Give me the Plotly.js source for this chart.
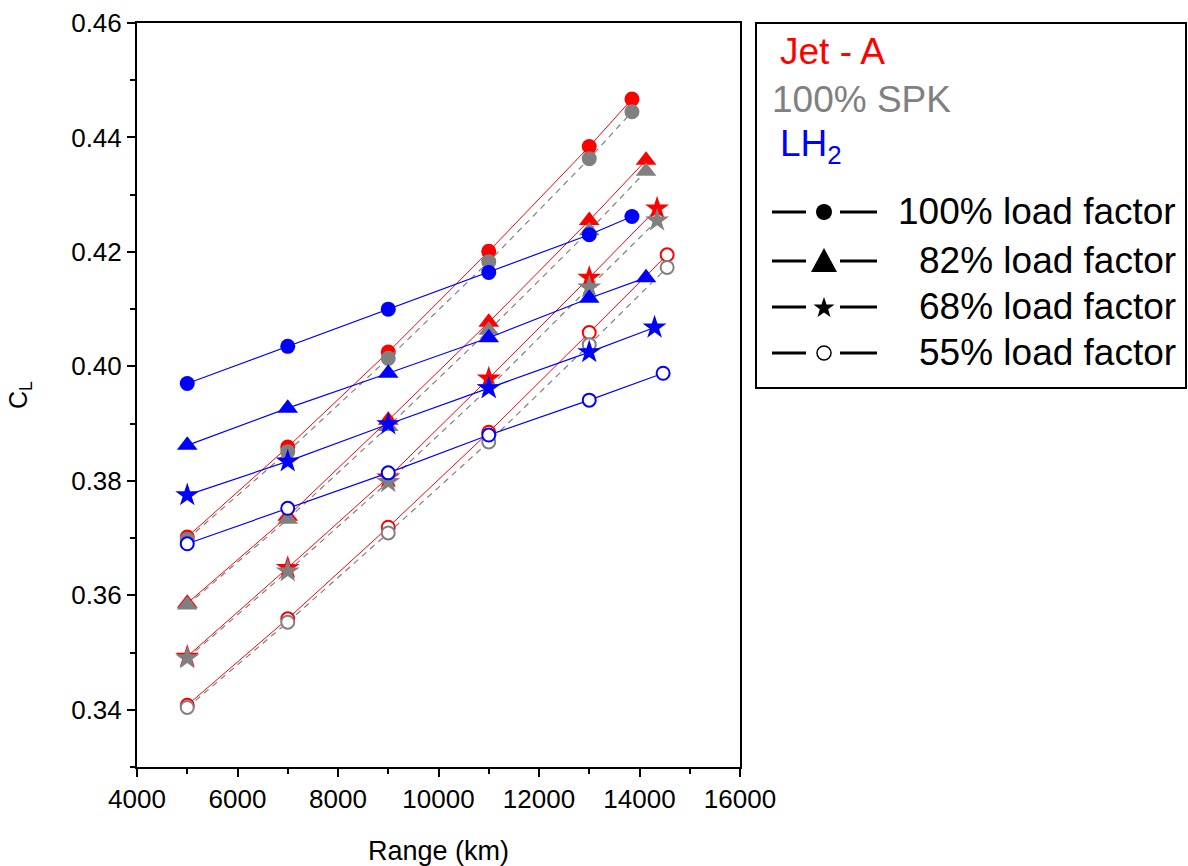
<!DOCTYPE html>
<html>
<head>
<meta charset="utf-8">
<script src="https://cdn.plot.ly/plotly-3.0.1.min.js"></script>
<style>html,body{margin:0;padding:0;background:#fff;}#chart{width:1188px;height:866px;}</style>
</head>
<body>
<div id="chart"></div>
<script>
// ---- Data ----
const fuels = ['Jet - A', '100% SPK', 'LH2'];
const loadFactors = ['100% load factor', '82% load factor', '68% load factor', '55% load factor'];

const x100 = [5000, 7000, 9000, 11000, 13000, 13850];
const x82 = [5000, 7000, 9000, 11000, 13000, 14130];
const x68 = [5000, 7000, 9000, 11000, 13000, 14350];
const x68LH2 = [5000, 7000, 9000, 11000, 13000, 14300];
const x55 = [5000, 7000, 9000, 11000, 13000, 14550];
const x55LH2 = [5000, 7000, 9000, 11000, 13000, 14470];

const jetA100 = [0.3702, 0.3859, 0.4025, 0.4201, 0.4384, 0.4467];
const jetA82 = [0.3586, 0.3738, 0.3906, 0.4077, 0.4255, 0.4360];
const jetA68 = [0.3493, 0.3648, 0.3806, 0.3979, 0.4155, 0.4276];
const jetA55 = [0.3408, 0.3559, 0.3719, 0.3885, 0.4059, 0.4195];

const spk100 = [0.3698, 0.3851, 0.4014, 0.4183, 0.4363, 0.4445];
const spk82 = [0.3583, 0.3733, 0.3895, 0.4063, 0.4237, 0.4341];
const spk68 = [0.3490, 0.3642, 0.3798, 0.3962, 0.4138, 0.4255];
const spk55 = [0.3404, 0.3553, 0.3709, 0.3868, 0.4038, 0.4173];

const lh2_100 = [0.3970, 0.4035, 0.4100, 0.4164, 0.4230, 0.4262];
const lh2_82 = [0.3862, 0.3927, 0.3988, 0.4050, 0.4119, 0.4155];
const lh2_68 = [0.3775, 0.3834, 0.3899, 0.3962, 0.4025, 0.4068];
const lh2_55 = [0.3690, 0.3752, 0.3814, 0.3880, 0.3941, 0.3988];

const xTickVals = [4000, 6000, 8000, 10000, 12000, 14000, 16000];
const yTickVals = [0.34, 0.36, 0.38, 0.40, 0.42, 0.44, 0.46];

// ---- Styles ----
const RED = '#ff0000', GREY = '#808080', BLUE = '#0000ff';
const FONT = 'Liberation Sans, Arial, sans-serif';

function markerFor(lfIndex, color) {
  if (lfIndex === 0) return {symbol: 'circle', size: 15, color: color, line: {width: 0}};
  if (lfIndex === 1) return {symbol: 'triangle-up', size: 18, color: color, line: {width: 0}};
  if (lfIndex === 2) return {symbol: 'star', size: 18, color: color, line: {width: 0}};
  return {symbol: 'circle', size: 13, color: '#ffffff', line: {width: 2, color: color}};
}

const groups = [
  {name: fuels[0], color: RED, line: {color: RED, width: 1}, xs: [x100, x82, x68, x55], ys: [jetA100, jetA82, jetA68, jetA55]},
  {name: fuels[1], color: GREY, line: {color: GREY, width: 1.2, dash: '6px,5px'}, xs: [x100, x82, x68, x55], ys: [spk100, spk82, spk68, spk55]},
  {name: fuels[2], color: BLUE, line: {color: BLUE, width: 1.2}, xs: [x100, x82, x68LH2, x55LH2], ys: [lh2_100, lh2_82, lh2_68, lh2_55]}
];

const traces = [];
groups.forEach(g => {
  for (let i = 0; i < 4; i++) {
    traces.push({
      type: 'scatter', mode: 'lines+markers',
      name: g.name + ' ' + loadFactors[i],
      x: g.xs[i], y: g.ys[i],
      line: g.line,
      marker: markerFor(i, g.color),
      showlegend: false, hoverinfo: 'x+y+name'
    });
  }
});

// ---- Pixel helpers for the custom legend box ----
const PL = 137, PR = 740, PT = 23, PB = 767;
const fx = x => (x - PL) / (PR - PL);
const fy = y => (PB - y) / (PB - PT);

const shapes = [];
const annotations = [];

// legend box
shapes.push({type: 'rect', xref: 'paper', yref: 'paper', x0: fx(756), x1: fx(1186), y0: fy(23), y1: fy(388),
  line: {color: '#000', width: 2}, fillcolor: 'rgba(0,0,0,0)'});

annotations.push({xref: 'paper', yref: 'paper', x: fx(778), y: fy(52), xanchor: 'left', yanchor: 'middle', showarrow: false,
  text: fuels[0], font: {family: FONT, size: 37, color: RED}});
annotations.push({xref: 'paper', yref: 'paper', x: fx(770), y: fy(99), xanchor: 'left', yanchor: 'middle', showarrow: false,
  text: fuels[1], font: {family: FONT, size: 37, color: GREY}});
annotations.push({xref: 'paper', yref: 'paper', x: fx(778), y: fy(146), xanchor: 'left', yanchor: 'middle', showarrow: false,
  text: 'LH<sub>2</sub>', font: {family: FONT, size: 37, color: BLUE}});

const rowY = [212, 261, 307, 353];
rowY.forEach((ry, i) => {
  shapes.push({type: 'line', xref: 'paper', yref: 'paper', x0: fx(772), x1: fx(806), y0: fy(ry), y1: fy(ry), line: {color: '#000', width: 3}});
  shapes.push({type: 'line', xref: 'paper', yref: 'paper', x0: fx(840), x1: fx(877), y0: fy(ry), y1: fy(ry), line: {color: '#000', width: 3}});
  const cx = 824;
  if (i === 0) {
    shapes.push({type: 'circle', xref: 'paper', yref: 'paper', x0: fx(cx - 8), x1: fx(cx + 8), y0: fy(ry - 8), y1: fy(ry + 8),
      fillcolor: '#000', line: {width: 0}});
  } else if (i === 1) {
    const p = `M ${fx(cx - 13)} ${fy(ry + 11)} L ${fx(cx + 13)} ${fy(ry + 11)} L ${fx(cx)} ${fy(ry - 13)} Z`;
    shapes.push({type: 'path', xref: 'paper', yref: 'paper', path: p, fillcolor: '#000', line: {width: 0}});
  } else if (i === 2) {
    const Ro = 11, Ri = 4.4;
    let p = '';
    for (let k = 0; k < 10; k++) {
      const r = k % 2 === 0 ? Ro : Ri;
      const a = -Math.PI / 2 + k * Math.PI / 5;
      const px = cx + r * Math.cos(a), py = ry + 1 + r * Math.sin(a);
      p += (k === 0 ? 'M ' : ' L ') + fx(px) + ' ' + fy(py);
    }
    shapes.push({type: 'path', xref: 'paper', yref: 'paper', path: p + ' Z', fillcolor: '#000', line: {width: 0}});
  } else {
    shapes.push({type: 'circle', xref: 'paper', yref: 'paper', x0: fx(cx - 7), x1: fx(cx + 7), y0: fy(ry - 7), y1: fy(ry + 7),
      fillcolor: '#fff', line: {width: 1.5, color: '#000'}});
  }
  annotations.push({xref: 'paper', yref: 'paper', x: fx(1178), y: fy(ry - 1), xanchor: 'right', yanchor: 'middle', showarrow: false,
    text: loadFactors[i], font: {family: FONT, size: 37, color: '#000'}});
});

// y-axis title C_L
annotations.push({xref: 'paper', yref: 'paper', x: fx(20), y: fy(395), xanchor: 'center', yanchor: 'middle', showarrow: false,
  textangle: -90, text: 'C<sub>L</sub>', font: {family: FONT, size: 25, color: '#000'}});

const layout = {
  width: 1188, height: 866,
  margin: {l: PL, r: 1188 - PR, t: PT, b: 866 - PB, pad: 0},
  paper_bgcolor: '#ffffff', plot_bgcolor: '#ffffff',
  font: {family: FONT, color: '#000'},
  showlegend: false,
  xaxis: {
    range: [4000, 16000], tickvals: xTickVals, ticktext: xTickVals.map(String),
    ticks: 'outside', ticklen: 8, tickwidth: 2, tickcolor: '#000',
    minor: {dtick: 1000, tick0: 4000, ticks: 'outside', ticklen: 5, tickwidth: 2, tickcolor: '#000', showgrid: false},
    showline: true, linewidth: 2, linecolor: '#000', mirror: true,
    showgrid: false, zeroline: false, automargin: false,
    tickfont: {family: FONT, size: 26, color: '#000'},
    title: {text: 'Range (km)', font: {family: FONT, size: 27, color: '#000'}, standoff: 28}
  },
  yaxis: {
    range: [0.33, 0.46], tickvals: yTickVals, ticktext: yTickVals.map(v => v.toFixed(2)),
    ticks: 'outside', ticklen: 8, tickwidth: 2, tickcolor: '#000',
    minor: {dtick: 0.01, tick0: 0.33, ticks: 'outside', ticklen: 5, tickwidth: 2, tickcolor: '#000', showgrid: false},
    showline: true, linewidth: 2, linecolor: '#000', mirror: true,
    showgrid: false, zeroline: false, automargin: false,
    tickfont: {family: FONT, size: 26, color: '#000'}
  },
  shapes: shapes,
  annotations: annotations
};

Plotly.newPlot('chart', traces, layout, {displayModeBar: false, staticPlot: true});
</script>
</body>
</html>
